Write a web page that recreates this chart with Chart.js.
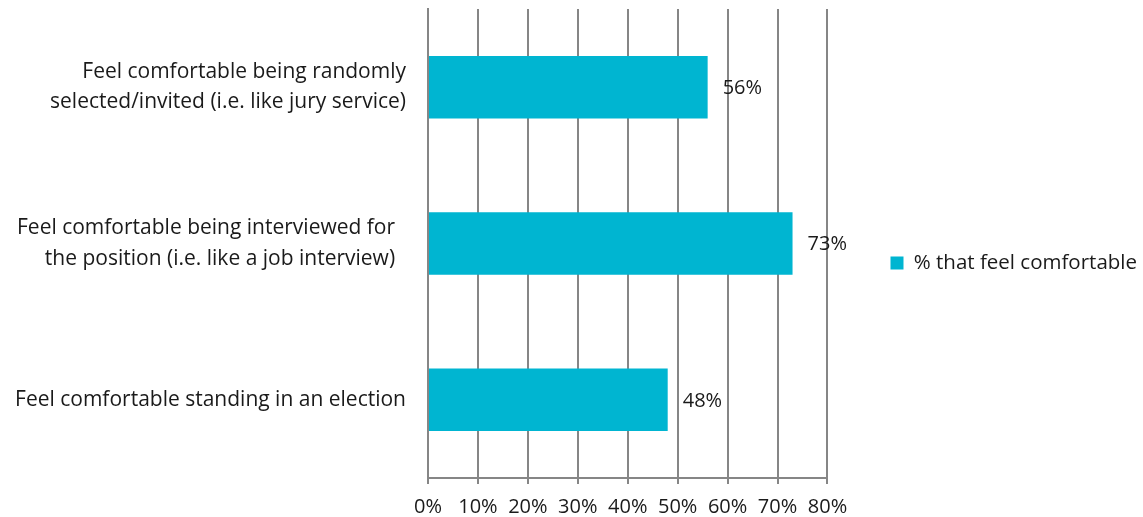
<!DOCTYPE html>
<html>
<head>
<meta charset="utf-8">
<title>% that feel comfortable</title>
<script src="https://cdn.jsdelivr.net/npm/chart.js@4.4.1/dist/chart.umd.min.js"></script>
<style>
  html, body { margin: 0; padding: 0; background: #fff; }
  #wrap { width: 1143px; height: 517px; }
</style>
</head>
<body>
<div id="wrap"><canvas id="comfortChart"></canvas></div>
<script>
// categories, top to bottom (trailing spaces pull the middle label in a little)
var categories = [
  ['Feel comfortable being randomly', 'selected/invited (i.e. like jury service)'],
  ['Feel comfortable being interviewed for  ', 'the position (i.e. like a job interview)  '],
  'Feel comfortable standing in an election'
];
var seriesName = '% that feel comfortable';
var comfortable = [56, 73, 48];
var xTicks = [0, 10, 20, 30, 40, 50, 60, 70, 80];

var FAMILY = '"Open Sans", sans-serif';
var TEXT = '#1a1a1a';
var GRID = '#868686';

// writes "56%" etc. just past the end of each bar
var valueLabels = {
  id: 'valueLabels',
  afterDatasetsDraw: function (chart) {
    var ctx = chart.ctx;
    var meta = chart.getDatasetMeta(0);
    ctx.save();
    ctx.font = '20px ' + FAMILY;
    ctx.fillStyle = TEXT;
    ctx.textBaseline = 'middle';
    ctx.textAlign = 'left';
    meta.data.forEach(function (bar, i) {
      ctx.fillText(comfortable[i] + '%', bar.x + 15, bar.y + 1);
    });
    ctx.restore();
  }
};

function draw() {
  new Chart(document.getElementById('comfortChart'), {
    type: 'bar',
    data: {
      labels: categories,
      datasets: [{
        label: seriesName,
        data: comfortable,
        backgroundColor: '#00B5D1',
        borderWidth: 0,
        categoryPercentage: 1,
        barPercentage: 0.4
      }]
    },
    options: {
      indexAxis: 'y',
      responsive: true,
      maintainAspectRatio: false,
      animation: false,
      layout: { padding: { top: 9, right: -4, bottom: 0, left: 0 } },
      plugins: {
        tooltip: { enabled: false },
        legend: {
          position: 'right',
          maxWidth: 400,
          labels: {
            boxWidth: 13,
            boxHeight: 13,
            padding: 63,
            color: TEXT,
            font: { family: FAMILY, size: 20.5 }
          }
        }
      },
      scales: {
        x: {
          min: 0,
          max: 80,
          afterBuildTicks: function (scale) {
            scale.ticks = xTicks.map(function (v) { return { value: v }; });
          },
          afterFit: function (scale) { scale.height = 39; },
          grid: { color: GRID, lineWidth: 2, tickLength: 6, drawTicks: true },
          border: { color: GRID, width: 2 },
          ticks: {
            color: TEXT,
            font: { family: FAMILY, size: 20 },
            padding: 11,
            maxRotation: 0,
            callback: function (v) { return v + '%'; }
          }
        },
        y: {
          grid: { display: false, drawTicks: false },
          border: { color: GRID, width: 2 },
          afterFit: function (scale) {
            scale.width = 428;
            scale.paddingTop = 0;
            scale.paddingBottom = 0;
          },
          ticks: {
            color: TEXT,
            font: { family: FAMILY, size: 21, lineHeight: 1.45 },
            padding: 22,
            crossAlign: 'near'
          }
        }
      }
    },
    plugins: [valueLabels]
  });
}

// make sure the font is ready before Chart.js measures any text
Promise.all([
  document.fonts.load('20px "Open Sans"'),
  document.fonts.load('21px "Open Sans"')
]).then(draw, draw);
</script>
</body>
</html>
